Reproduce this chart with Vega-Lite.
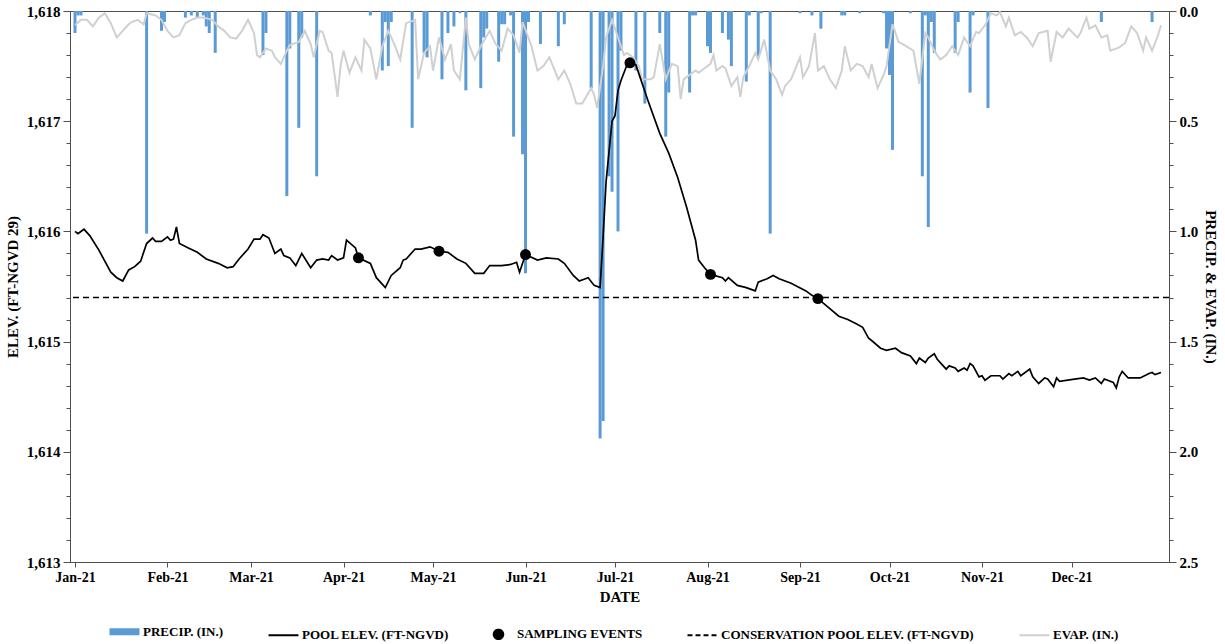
{
"$schema": "https://vega.github.io/schema/vega-lite/v6.json",
"width": 1099,
"height": 551,
"autosize": {"type": "none"},
"padding": {"left": 70, "top": 11, "right": 56, "bottom": 82},
"background": "white",
"config": {
  "font": "Liberation Serif",
  "view": {"stroke": "#505050", "strokeWidth": 1},
  "axis": {"labelFont": "Liberation Serif", "titleFont": "Liberation Serif", "labelFontWeight": "bold", "titleFontWeight": "bold", "labelColor": "black", "titleColor": "black", "domainColor": "#505050", "tickColor": "#505050", "grid": false, "labelOverlap": false}
},
"datasets": {
  "pool": [
    {"date":"2021-01-01","elev":1616.00},{"date":"2021-01-02","elev":1615.98},{"date":"2021-01-04","elev":1616.02},{"date":"2021-01-06","elev":1615.96},{"date":"2021-01-09","elev":1615.83},{"date":"2021-01-13","elev":1615.63},{"date":"2021-01-15","elev":1615.58},{"date":"2021-01-17","elev":1615.55},{"date":"2021-01-19","elev":1615.65},{"date":"2021-01-21","elev":1615.68},{"date":"2021-01-23","elev":1615.73},{"date":"2021-01-25","elev":1615.89},{"date":"2021-01-27","elev":1615.94},{"date":"2021-01-28","elev":1615.91},{"date":"2021-01-30","elev":1615.91},
    {"date":"2021-02-01","elev":1615.95},{"date":"2021-02-02","elev":1615.92},{"date":"2021-02-03","elev":1615.93},{"date":"2021-02-04","elev":1616.04},{"date":"2021-02-05","elev":1615.89},{"date":"2021-02-08","elev":1615.85},{"date":"2021-02-11","elev":1615.81},{"date":"2021-02-14","elev":1615.75},{"date":"2021-02-18","elev":1615.71},{"date":"2021-02-21","elev":1615.67},{"date":"2021-02-23","elev":1615.68},{"date":"2021-02-25","elev":1615.75},{"date":"2021-02-28","elev":1615.84},
    {"date":"2021-03-02","elev":1615.93},{"date":"2021-03-04","elev":1615.93},{"date":"2021-03-05","elev":1615.97},{"date":"2021-03-07","elev":1615.94},{"date":"2021-03-09","elev":1615.80},{"date":"2021-03-11","elev":1615.84},{"date":"2021-03-12","elev":1615.78},{"date":"2021-03-14","elev":1615.76},{"date":"2021-03-16","elev":1615.69},{"date":"2021-03-18","elev":1615.80},{"date":"2021-03-21","elev":1615.67},{"date":"2021-03-23","elev":1615.74},{"date":"2021-03-25","elev":1615.75},{"date":"2021-03-27","elev":1615.74},{"date":"2021-03-28","elev":1615.78},{"date":"2021-03-30","elev":1615.74},
    {"date":"2021-04-01","elev":1615.76},{"date":"2021-04-02","elev":1615.92},{"date":"2021-04-05","elev":1615.85},{"date":"2021-04-06","elev":1615.76},{"date":"2021-04-10","elev":1615.71},{"date":"2021-04-12","elev":1615.58},{"date":"2021-04-15","elev":1615.49},{"date":"2021-04-17","elev":1615.60},{"date":"2021-04-20","elev":1615.67},{"date":"2021-04-21","elev":1615.74},{"date":"2021-04-22","elev":1615.75},{"date":"2021-04-25","elev":1615.84},{"date":"2021-04-27","elev":1615.84},{"date":"2021-04-30","elev":1615.86},
    {"date":"2021-05-03","elev":1615.82},{"date":"2021-05-06","elev":1615.81},{"date":"2021-05-09","elev":1615.75},{"date":"2021-05-12","elev":1615.71},{"date":"2021-05-15","elev":1615.62},{"date":"2021-05-18","elev":1615.62},{"date":"2021-05-20","elev":1615.69},{"date":"2021-05-24","elev":1615.69},{"date":"2021-05-27","elev":1615.70},{"date":"2021-05-29","elev":1615.72},{"date":"2021-05-30","elev":1615.63},
    {"date":"2021-06-01","elev":1615.79},{"date":"2021-06-05","elev":1615.74},{"date":"2021-06-08","elev":1615.76},{"date":"2021-06-12","elev":1615.75},{"date":"2021-06-14","elev":1615.71},{"date":"2021-06-17","elev":1615.60},{"date":"2021-06-19","elev":1615.55},{"date":"2021-06-22","elev":1615.58},{"date":"2021-06-24","elev":1615.51},{"date":"2021-06-26","elev":1615.49},{"date":"2021-06-27","elev":1615.95},{"date":"2021-06-28","elev":1616.45},{"date":"2021-06-30","elev":1617.00},
    {"date":"2021-07-01","elev":1617.05},{"date":"2021-07-02","elev":1617.28},{"date":"2021-07-03","elev":1617.37},{"date":"2021-07-05","elev":1617.51},{"date":"2021-07-06","elev":1617.53},{"date":"2021-07-08","elev":1617.51},{"date":"2021-07-10","elev":1617.35},{"date":"2021-07-12","elev":1617.19},{"date":"2021-07-16","elev":1616.89},{"date":"2021-07-19","elev":1616.71},{"date":"2021-07-22","elev":1616.49},{"date":"2021-07-25","elev":1616.22},{"date":"2021-07-28","elev":1615.92},{"date":"2021-07-29","elev":1615.74},{"date":"2021-07-31","elev":1615.67},
    {"date":"2021-08-02","elev":1615.61},{"date":"2021-08-06","elev":1615.58},{"date":"2021-08-07","elev":1615.55},{"date":"2021-08-08","elev":1615.58},{"date":"2021-08-11","elev":1615.51},{"date":"2021-08-14","elev":1615.49},{"date":"2021-08-17","elev":1615.46},{"date":"2021-08-18","elev":1615.54},{"date":"2021-08-21","elev":1615.57},{"date":"2021-08-23","elev":1615.60},{"date":"2021-08-25","elev":1615.57},{"date":"2021-08-29","elev":1615.53},
    {"date":"2021-09-03","elev":1615.46},{"date":"2021-09-05","elev":1615.42},{"date":"2021-09-07","elev":1615.39},{"date":"2021-09-11","elev":1615.30},{"date":"2021-09-14","elev":1615.23},{"date":"2021-09-17","elev":1615.20},{"date":"2021-09-20","elev":1615.16},{"date":"2021-09-22","elev":1615.13},{"date":"2021-09-24","elev":1615.03},{"date":"2021-09-25","elev":1615.01},{"date":"2021-09-28","elev":1614.94},{"date":"2021-09-30","elev":1614.92},
    {"date":"2021-10-03","elev":1614.94},{"date":"2021-10-05","elev":1614.90},{"date":"2021-10-08","elev":1614.87},{"date":"2021-10-10","elev":1614.80},{"date":"2021-10-11","elev":1614.85},{"date":"2021-10-13","elev":1614.81},{"date":"2021-10-14","elev":1614.85},{"date":"2021-10-16","elev":1614.89},{"date":"2021-10-17","elev":1614.84},{"date":"2021-10-19","elev":1614.78},{"date":"2021-10-20","elev":1614.75},{"date":"2021-10-21","elev":1614.78},{"date":"2021-10-23","elev":1614.76},{"date":"2021-10-24","elev":1614.73},{"date":"2021-10-26","elev":1614.76},{"date":"2021-10-27","elev":1614.74},{"date":"2021-10-28","elev":1614.80},{"date":"2021-10-29","elev":1614.78},{"date":"2021-10-31","elev":1614.68},
    {"date":"2021-11-01","elev":1614.69},{"date":"2021-11-02","elev":1614.65},{"date":"2021-11-04","elev":1614.69},{"date":"2021-11-07","elev":1614.69},{"date":"2021-11-08","elev":1614.66},{"date":"2021-11-10","elev":1614.71},{"date":"2021-11-11","elev":1614.69},{"date":"2021-11-13","elev":1614.73},{"date":"2021-11-14","elev":1614.69},{"date":"2021-11-17","elev":1614.75},{"date":"2021-11-18","elev":1614.68},{"date":"2021-11-20","elev":1614.62},{"date":"2021-11-22","elev":1614.67},{"date":"2021-11-23","elev":1614.66},{"date":"2021-11-25","elev":1614.59},{"date":"2021-11-26","elev":1614.67},{"date":"2021-11-27","elev":1614.64},
    {"date":"2021-12-02","elev":1614.66},{"date":"2021-12-05","elev":1614.67},{"date":"2021-12-07","elev":1614.65},{"date":"2021-12-09","elev":1614.67},{"date":"2021-12-11","elev":1614.62},{"date":"2021-12-12","elev":1614.66},{"date":"2021-12-15","elev":1614.63},{"date":"2021-12-16","elev":1614.58},{"date":"2021-12-17","elev":1614.68},{"date":"2021-12-18","elev":1614.73},{"date":"2021-12-20","elev":1614.67},{"date":"2021-12-24","elev":1614.67},{"date":"2021-12-27","elev":1614.71},{"date":"2021-12-28","elev":1614.72},{"date":"2021-12-29","elev":1614.70},{"date":"2021-12-31","elev":1614.72}
  ],
  "samples": [
    {"date":"2021-04-06","elev":1615.76},{"date":"2021-05-03","elev":1615.82},{"date":"2021-06-01","elev":1615.79},{"date":"2021-07-06","elev":1617.53},{"date":"2021-08-02","elev":1615.61},{"date":"2021-09-07","elev":1615.39}
  ],
  "cons": [{"elev": 1615.4}],
  "precip": [
    {"date":"2021-01-01","v":0.10},{"date":"2021-01-02","v":0.02},{"date":"2021-01-03","v":0.02},{"date":"2021-01-25","v":1.01},{"date":"2021-01-30","v":0.09},{"date":"2021-01-31","v":0.05},
    {"date":"2021-02-07","v":0.03},{"date":"2021-02-09","v":0.02},{"date":"2021-02-11","v":0.03},{"date":"2021-02-13","v":0.02},{"date":"2021-02-14","v":0.07},{"date":"2021-02-15","v":0.10},{"date":"2021-02-17","v":0.19},
    {"date":"2021-03-05","v":0.20},{"date":"2021-03-06","v":0.10},{"date":"2021-03-13","v":0.84},{"date":"2021-03-14","v":0.17},{"date":"2021-03-17","v":0.53},{"date":"2021-03-18","v":0.12},{"date":"2021-03-23","v":0.75},
    {"date":"2021-04-10","v":0.02},{"date":"2021-04-14","v":0.27},{"date":"2021-04-15","v":0.05},{"date":"2021-04-16","v":0.25},{"date":"2021-04-17","v":0.05},{"date":"2021-04-24","v":0.53},{"date":"2021-04-28","v":0.19},{"date":"2021-04-29","v":0.21},
    {"date":"2021-05-04","v":0.31},{"date":"2021-05-06","v":0.10},{"date":"2021-05-08","v":0.07},{"date":"2021-05-10","v":0.01},{"date":"2021-05-12","v":0.36},{"date":"2021-05-17","v":0.35},{"date":"2021-05-18","v":0.12},{"date":"2021-05-19","v":0.08},{"date":"2021-05-23","v":0.23},{"date":"2021-05-24","v":0.06},{"date":"2021-05-25","v":0.06},{"date":"2021-05-27","v":0.02},{"date":"2021-05-28","v":0.57},{"date":"2021-05-31","v":0.65},
    {"date":"2021-06-01","v":1.19},{"date":"2021-06-02","v":0.05},{"date":"2021-06-06","v":0.15},{"date":"2021-06-12","v":0.16},{"date":"2021-06-14","v":0.06},{"date":"2021-06-23","v":0.35},{"date":"2021-06-26","v":1.94},{"date":"2021-06-27","v":1.86},{"date":"2021-06-29","v":0.75},{"date":"2021-06-30","v":0.82},
    {"date":"2021-07-02","v":1.00},{"date":"2021-07-03","v":0.18},{"date":"2021-07-08","v":0.27},{"date":"2021-07-11","v":0.42},{"date":"2021-07-16","v":0.10},{"date":"2021-07-18","v":0.57},{"date":"2021-07-19","v":0.37},{"date":"2021-07-26","v":0.37},{"date":"2021-07-27","v":0.02},{"date":"2021-07-28","v":0.02},
    {"date":"2021-08-01","v":0.16},{"date":"2021-08-02","v":0.19},{"date":"2021-08-06","v":0.10},{"date":"2021-08-08","v":0.13},{"date":"2021-08-09","v":0.25},{"date":"2021-08-14","v":0.32},{"date":"2021-08-15","v":0.02},{"date":"2021-08-18","v":0.21},{"date":"2021-08-19","v":0.01},{"date":"2021-08-22","v":1.01},
    {"date":"2021-09-01","v":0.01},{"date":"2021-09-05","v":0.02},{"date":"2021-09-08","v":0.08},{"date":"2021-09-15","v":0.02},{"date":"2021-09-16","v":0.02},{"date":"2021-09-21","v":0.01},{"date":"2021-09-29","v":0.01},{"date":"2021-09-30","v":0.17},
    {"date":"2021-10-01","v":0.29},{"date":"2021-10-02","v":0.63},{"date":"2021-10-08","v":0.01},{"date":"2021-10-12","v":0.75},{"date":"2021-10-13","v":0.02},{"date":"2021-10-14","v":0.98},{"date":"2021-10-15","v":0.05},{"date":"2021-10-16","v":0.19},{"date":"2021-10-23","v":0.19},{"date":"2021-10-24","v":0.05},{"date":"2021-10-28","v":0.37},{"date":"2021-10-29","v":0.02},
    {"date":"2021-11-03","v":0.44},{"date":"2021-12-11","v":0.05},{"date":"2021-12-28","v":0.05}
  ],
  "evap": [
    {"date":"2021-01-01","v":0.064},{"date":"2021-01-03","v":0.04},{"date":"2021-01-05","v":0.04},{"date":"2021-01-07","v":0.07},{"date":"2021-01-09","v":0.03},{"date":"2021-01-11","v":0.01},{"date":"2021-01-13","v":0.055},{"date":"2021-01-15","v":0.12},{"date":"2021-01-17","v":0.09},{"date":"2021-01-19","v":0.06},{"date":"2021-01-20","v":0.05},{"date":"2021-01-22","v":0.04},{"date":"2021-01-24","v":0.06},{"date":"2021-01-25","v":0.01},{"date":"2021-01-28","v":0.02},{"date":"2021-01-30","v":0.04},
    {"date":"2021-02-01","v":0.09},{"date":"2021-02-03","v":0.12},{"date":"2021-02-05","v":0.11},{"date":"2021-02-07","v":0.055},{"date":"2021-02-09","v":0.04},{"date":"2021-02-11","v":0.03},{"date":"2021-02-13","v":0.03},{"date":"2021-02-16","v":0.04},{"date":"2021-02-18","v":0.07},{"date":"2021-02-20","v":0.09},{"date":"2021-02-22","v":0.12},{"date":"2021-02-24","v":0.125},{"date":"2021-02-26","v":0.09},{"date":"2021-02-28","v":0.04},
    {"date":"2021-03-02","v":0.10},{"date":"2021-03-03","v":0.20},{"date":"2021-03-04","v":0.21},{"date":"2021-03-06","v":0.17},{"date":"2021-03-08","v":0.18},{"date":"2021-03-09","v":0.21},{"date":"2021-03-11","v":0.24},{"date":"2021-03-13","v":0.18},{"date":"2021-03-14","v":0.155},{"date":"2021-03-17","v":0.14},{"date":"2021-03-19","v":0.09},{"date":"2021-03-21","v":0.15},{"date":"2021-03-22","v":0.21},{"date":"2021-03-24","v":0.09},{"date":"2021-03-25","v":0.095},{"date":"2021-03-27","v":0.18},{"date":"2021-03-28","v":0.19},{"date":"2021-03-30","v":0.39},{"date":"2021-03-31","v":0.25},
    {"date":"2021-04-01","v":0.18},{"date":"2021-04-03","v":0.28},{"date":"2021-04-05","v":0.21},{"date":"2021-04-07","v":0.27},{"date":"2021-04-08","v":0.13},{"date":"2021-04-10","v":0.17},{"date":"2021-04-12","v":0.31},{"date":"2021-04-14","v":0.16},{"date":"2021-04-16","v":0.09},{"date":"2021-04-18","v":0.15},{"date":"2021-04-20","v":0.22},{"date":"2021-04-22","v":0.055},{"date":"2021-04-25","v":0.04},{"date":"2021-04-26","v":0.31},{"date":"2021-04-28","v":0.19},{"date":"2021-04-30","v":0.16},
    {"date":"2021-05-01","v":0.27},{"date":"2021-05-03","v":0.12},{"date":"2021-05-05","v":0.22},{"date":"2021-05-07","v":0.15},{"date":"2021-05-08","v":0.27},{"date":"2021-05-10","v":0.31},{"date":"2021-05-12","v":0.03},{"date":"2021-05-13","v":0.15},{"date":"2021-05-15","v":0.22},{"date":"2021-05-17","v":0.16},{"date":"2021-05-20","v":0.09},{"date":"2021-05-22","v":0.15},{"date":"2021-05-24","v":0.18},{"date":"2021-05-26","v":0.08},{"date":"2021-05-28","v":0.11},{"date":"2021-05-30","v":0.19},{"date":"2021-05-31","v":0.05},
    {"date":"2021-06-03","v":0.16},{"date":"2021-06-05","v":0.27},{"date":"2021-06-07","v":0.25},{"date":"2021-06-09","v":0.21},{"date":"2021-06-12","v":0.31},{"date":"2021-06-14","v":0.27},{"date":"2021-06-16","v":0.33},{"date":"2021-06-18","v":0.42},{"date":"2021-06-20","v":0.42},{"date":"2021-06-23","v":0.35},{"date":"2021-06-24","v":0.38},{"date":"2021-06-25","v":0.44},{"date":"2021-06-27","v":0.25},{"date":"2021-06-28","v":0.12},{"date":"2021-06-30","v":0.04},
    {"date":"2021-07-02","v":0.12},{"date":"2021-07-04","v":0.20},{"date":"2021-07-05","v":0.19},{"date":"2021-07-07","v":0.21},{"date":"2021-07-09","v":0.25},{"date":"2021-07-10","v":0.31},{"date":"2021-07-13","v":0.31},{"date":"2021-07-14","v":0.30},{"date":"2021-07-16","v":0.15},{"date":"2021-07-18","v":0.31},{"date":"2021-07-20","v":0.24},{"date":"2021-07-22","v":0.25},{"date":"2021-07-23","v":0.40},{"date":"2021-07-24","v":0.31},{"date":"2021-07-26","v":0.29},{"date":"2021-07-28","v":0.27},{"date":"2021-07-29","v":0.28},{"date":"2021-07-31","v":0.26},
    {"date":"2021-08-02","v":0.24},{"date":"2021-08-03","v":0.20},{"date":"2021-08-04","v":0.27},{"date":"2021-08-06","v":0.25},{"date":"2021-08-07","v":0.26},{"date":"2021-08-09","v":0.34},{"date":"2021-08-11","v":0.30},{"date":"2021-08-12","v":0.39},{"date":"2021-08-13","v":0.30},{"date":"2021-08-15","v":0.25},{"date":"2021-08-17","v":0.19},{"date":"2021-08-18","v":0.22},{"date":"2021-08-20","v":0.13},{"date":"2021-08-22","v":0.27},{"date":"2021-08-24","v":0.31},{"date":"2021-08-26","v":0.38},{"date":"2021-08-27","v":0.34},{"date":"2021-08-29","v":0.31},
    {"date":"2021-09-01","v":0.21},{"date":"2021-09-02","v":0.30},{"date":"2021-09-04","v":0.25},{"date":"2021-09-06","v":0.10},{"date":"2021-09-07","v":0.27},{"date":"2021-09-09","v":0.25},{"date":"2021-09-11","v":0.31},{"date":"2021-09-13","v":0.35},{"date":"2021-09-15","v":0.27},{"date":"2021-09-16","v":0.16},{"date":"2021-09-18","v":0.27},{"date":"2021-09-20","v":0.24},{"date":"2021-09-22","v":0.25},{"date":"2021-09-24","v":0.30},{"date":"2021-09-25","v":0.24},{"date":"2021-09-27","v":0.35},{"date":"2021-09-29","v":0.29},{"date":"2021-09-30","v":0.25},
    {"date":"2021-10-02","v":0.06},{"date":"2021-10-04","v":0.14},{"date":"2021-10-06","v":0.155},{"date":"2021-10-09","v":0.18},{"date":"2021-10-11","v":0.33},{"date":"2021-10-13","v":0.10},{"date":"2021-10-14","v":0.12},{"date":"2021-10-16","v":0.18},{"date":"2021-10-18","v":0.22},{"date":"2021-10-20","v":0.20},{"date":"2021-10-22","v":0.16},{"date":"2021-10-24","v":0.20},{"date":"2021-10-26","v":0.12},{"date":"2021-10-28","v":0.16},{"date":"2021-10-30","v":0.095},{"date":"2021-10-31","v":0.10},
    {"date":"2021-11-02","v":0.065},{"date":"2021-11-04","v":0.01},{"date":"2021-11-06","v":0.02},{"date":"2021-11-07","v":0.005},{"date":"2021-11-09","v":0.07},{"date":"2021-11-10","v":0.03},{"date":"2021-11-12","v":0.11},{"date":"2021-11-14","v":0.095},{"date":"2021-11-16","v":0.12},{"date":"2021-11-18","v":0.16},{"date":"2021-11-20","v":0.10},{"date":"2021-11-23","v":0.09},{"date":"2021-11-24","v":0.23},{"date":"2021-11-26","v":0.095},{"date":"2021-11-28","v":0.12},{"date":"2021-11-30","v":0.08},
    {"date":"2021-12-03","v":0.12},{"date":"2021-12-04","v":0.10},{"date":"2021-12-06","v":0.03},{"date":"2021-12-07","v":0.08},{"date":"2021-12-09","v":0.065},{"date":"2021-12-11","v":0.12},{"date":"2021-12-13","v":0.11},{"date":"2021-12-14","v":0.18},{"date":"2021-12-17","v":0.165},{"date":"2021-12-19","v":0.145},{"date":"2021-12-21","v":0.07},{"date":"2021-12-23","v":0.10},{"date":"2021-12-25","v":0.18},{"date":"2021-12-26","v":0.12},{"date":"2021-12-28","v":0.18},{"date":"2021-12-30","v":0.11},{"date":"2021-12-31","v":0.065}
  ]
},
"layer": [
  {
    "data": {"name": "precip"},
    "mark": {"type": "bar", "width": 3, "clip": true},
    "encoding": {
      "x": {"field": "date", "type": "temporal", "title": "DATE",
        "scale": {"type": "utc", "domain": [{"year": 2021, "month": 1, "date": 1, "utc": true}, {"year": 2022, "month": 1, "date": 1, "utc": true}]},
        "axis": {"values": [
          {"year": 2021, "month": 1, "date": 1, "utc": true},{"year": 2021, "month": 2, "date": 1, "utc": true},{"year": 2021, "month": 3, "date": 1, "utc": true},{"year": 2021, "month": 4, "date": 1, "utc": true},{"year": 2021, "month": 5, "date": 1, "utc": true},{"year": 2021, "month": 6, "date": 1, "utc": true},{"year": 2021, "month": 7, "date": 1, "utc": true},{"year": 2021, "month": 8, "date": 1, "utc": true},{"year": 2021, "month": 9, "date": 1, "utc": true},{"year": 2021, "month": 10, "date": 1, "utc": true},{"year": 2021, "month": 11, "date": 1, "utc": true},{"year": 2021, "month": 12, "date": 1, "utc": true}],
          "labelExpr": "utcFormat(datum.value, '%b-%y')", "labelFontSize": 14, "titleFontSize": 15, "tickSize": 5, "labelPadding": 3, "titlePadding": 5, "labelOverlap": false, "labelFlush": false}},
      "y": {"field": "v", "type": "quantitative", "title": "PRECIP. & EVAP. (IN.)",
        "scale": {"domain": [0, 2.5], "reverse": true, "nice": false},
        "axis": {"orient": "right", "values": [0, 0.5, 1, 1.5, 2, 2.5], "format": ".1f",
          "tickSize": 7, "labelFontSize": 15, "titleFontSize": 15, "labelPadding": 3, "titlePadding": 5, "labelOverlap": false}},
      "color": {"datum": "PRECIP. (IN.)", "type": "nominal",
        "scale": {"domain": ["PRECIP. (IN.)", "POOL ELEV. (FT-NGVD)", "SAMPLING EVENTS", "CONSERVATION POOL ELEV. (FT-NGVD)", "EVAP. (IN.)"],
                  "range": ["#5B9BD5", "#000000", "#000000", "#000000", "#D0D0D0"]},
        "legend": {"orient": "none", "legendX": 48, "legendY": 614, "direction": "horizontal", "title": null,
          "symbolType": "stroke", "symbolSize": 900, "symbolStrokeWidth": 2,
          "labelFont": "Liberation Serif", "labelFontWeight": "bold", "labelFontSize": 13, "labelColor": "black",
          "labelOffset": 12, "columnPadding": 40, "labelLimit": 400,
          "encode": {"symbols": {"update": {
            "shape": {"signal": "datum.label === 'SAMPLING EVENTS' ? 'circle' : 'stroke'"},
            "size": {"signal": "datum.label === 'SAMPLING EVENTS' ? 90 : 900"},
            "strokeWidth": {"signal": "datum.label === 'PRECIP. (IN.)' ? 7 : 2"},
            "strokeDash": {"signal": "datum.label === 'CONSERVATION POOL ELEV. (FT-NGVD)' ? [5, 3] : [1, 0]"},
            "fill": {"signal": "datum.label === 'SAMPLING EVENTS' ? '#000000' : 'transparent'"},
            "stroke": {"signal": "datum.label === 'PRECIP. (IN.)' ? '#5B9BD5' : (datum.label === 'EVAP. (IN.)' ? '#D0D0D0' : '#000000')"},
            "opacity": {"value": 1}
          }}}}
      }
    }
  },
  {
    "data": {"name": "evap"},
    "mark": {"type": "line", "strokeWidth": 2},
    "encoding": {
      "x": {"field": "date", "type": "temporal", "title": "DATE"},
      "y": {"field": "v", "type": "quantitative", "scale": {"domain": [0, 2.5], "reverse": true, "nice": false}, "axis": null},
      "color": {"datum": "EVAP. (IN.)", "type": "nominal"}
    }
  },
  {
    "data": {"name": "pool"},
    "mark": {"type": "line", "strokeWidth": 1.7},
    "encoding": {
      "x": {"field": "date", "type": "temporal", "title": "DATE"},
      "y": {"field": "elev", "type": "quantitative", "title": "ELEV. (FT-NGVD 29)",
        "scale": {"domain": [1613, 1618], "nice": false, "zero": false},
        "axis": {"orient": "left", "values": [1613, 1614, 1615, 1616, 1617, 1618], "format": ",",
          "tickSize": 7, "labelFontSize": 15, "titleFontSize": 15, "labelPadding": 3, "titlePadding": 6, "labelOverlap": false}},
      "color": {"datum": "POOL ELEV. (FT-NGVD)", "type": "nominal"}
    }
  },
  {
    "data": {"name": "cons"},
    "mark": {"type": "rule", "strokeDash": [6, 4], "strokeWidth": 1.5},
    "encoding": {
      "y": {"field": "elev", "type": "quantitative", "scale": {"domain": [1613, 1618], "nice": false, "zero": false}, "axis": null},
      "color": {"datum": "CONSERVATION POOL ELEV. (FT-NGVD)", "type": "nominal"}
    }
  },
  {
    "data": {"name": "samples"},
    "mark": {"type": "circle", "size": 120, "opacity": 1},
    "encoding": {
      "x": {"field": "date", "type": "temporal", "title": "DATE"},
      "y": {"field": "elev", "type": "quantitative", "scale": {"domain": [1613, 1618], "nice": false, "zero": false}, "axis": null},
      "color": {"datum": "SAMPLING EVENTS", "type": "nominal"}
    }
  },
  {
    "data": {"name": "pool"},
    "mark": {"type": "line", "opacity": 0},
    "encoding": {
      "x": {"field": "date", "type": "temporal", "title": "DATE"},
      "y": {"field": "elev", "type": "quantitative", "scale": {"domain": [1613, 1618], "nice": false, "zero": false},
        "axis": {"orient": "left", "title": null, "labels": false, "domain": false, "tickSize": 4,
          "values": [1613.2,1613.4,1613.6,1613.8,1614.2,1614.4,1614.6,1614.8,1615.2,1615.4,1615.6,1615.8,1616.2,1616.4,1616.6,1616.8,1617.2,1617.4,1617.6,1617.8]}}
    }
  },
  {
    "data": {"name": "evap"},
    "mark": {"type": "line", "opacity": 0},
    "encoding": {
      "x": {"field": "date", "type": "temporal", "title": "DATE"},
      "y": {"field": "v", "type": "quantitative", "scale": {"domain": [0, 2.5], "reverse": true, "nice": false},
        "axis": {"orient": "right", "title": null, "labels": false, "domain": false, "tickSize": 4,
          "values": [0.1,0.2,0.3,0.4,0.6,0.7,0.8,0.9,1.1,1.2,1.3,1.4,1.6,1.7,1.8,1.9,2.1,2.2,2.3,2.4]}}
    }
  }
],
"resolve": {"scale": {"y": "independent"}, "axis": {"y": "independent"}}
}
